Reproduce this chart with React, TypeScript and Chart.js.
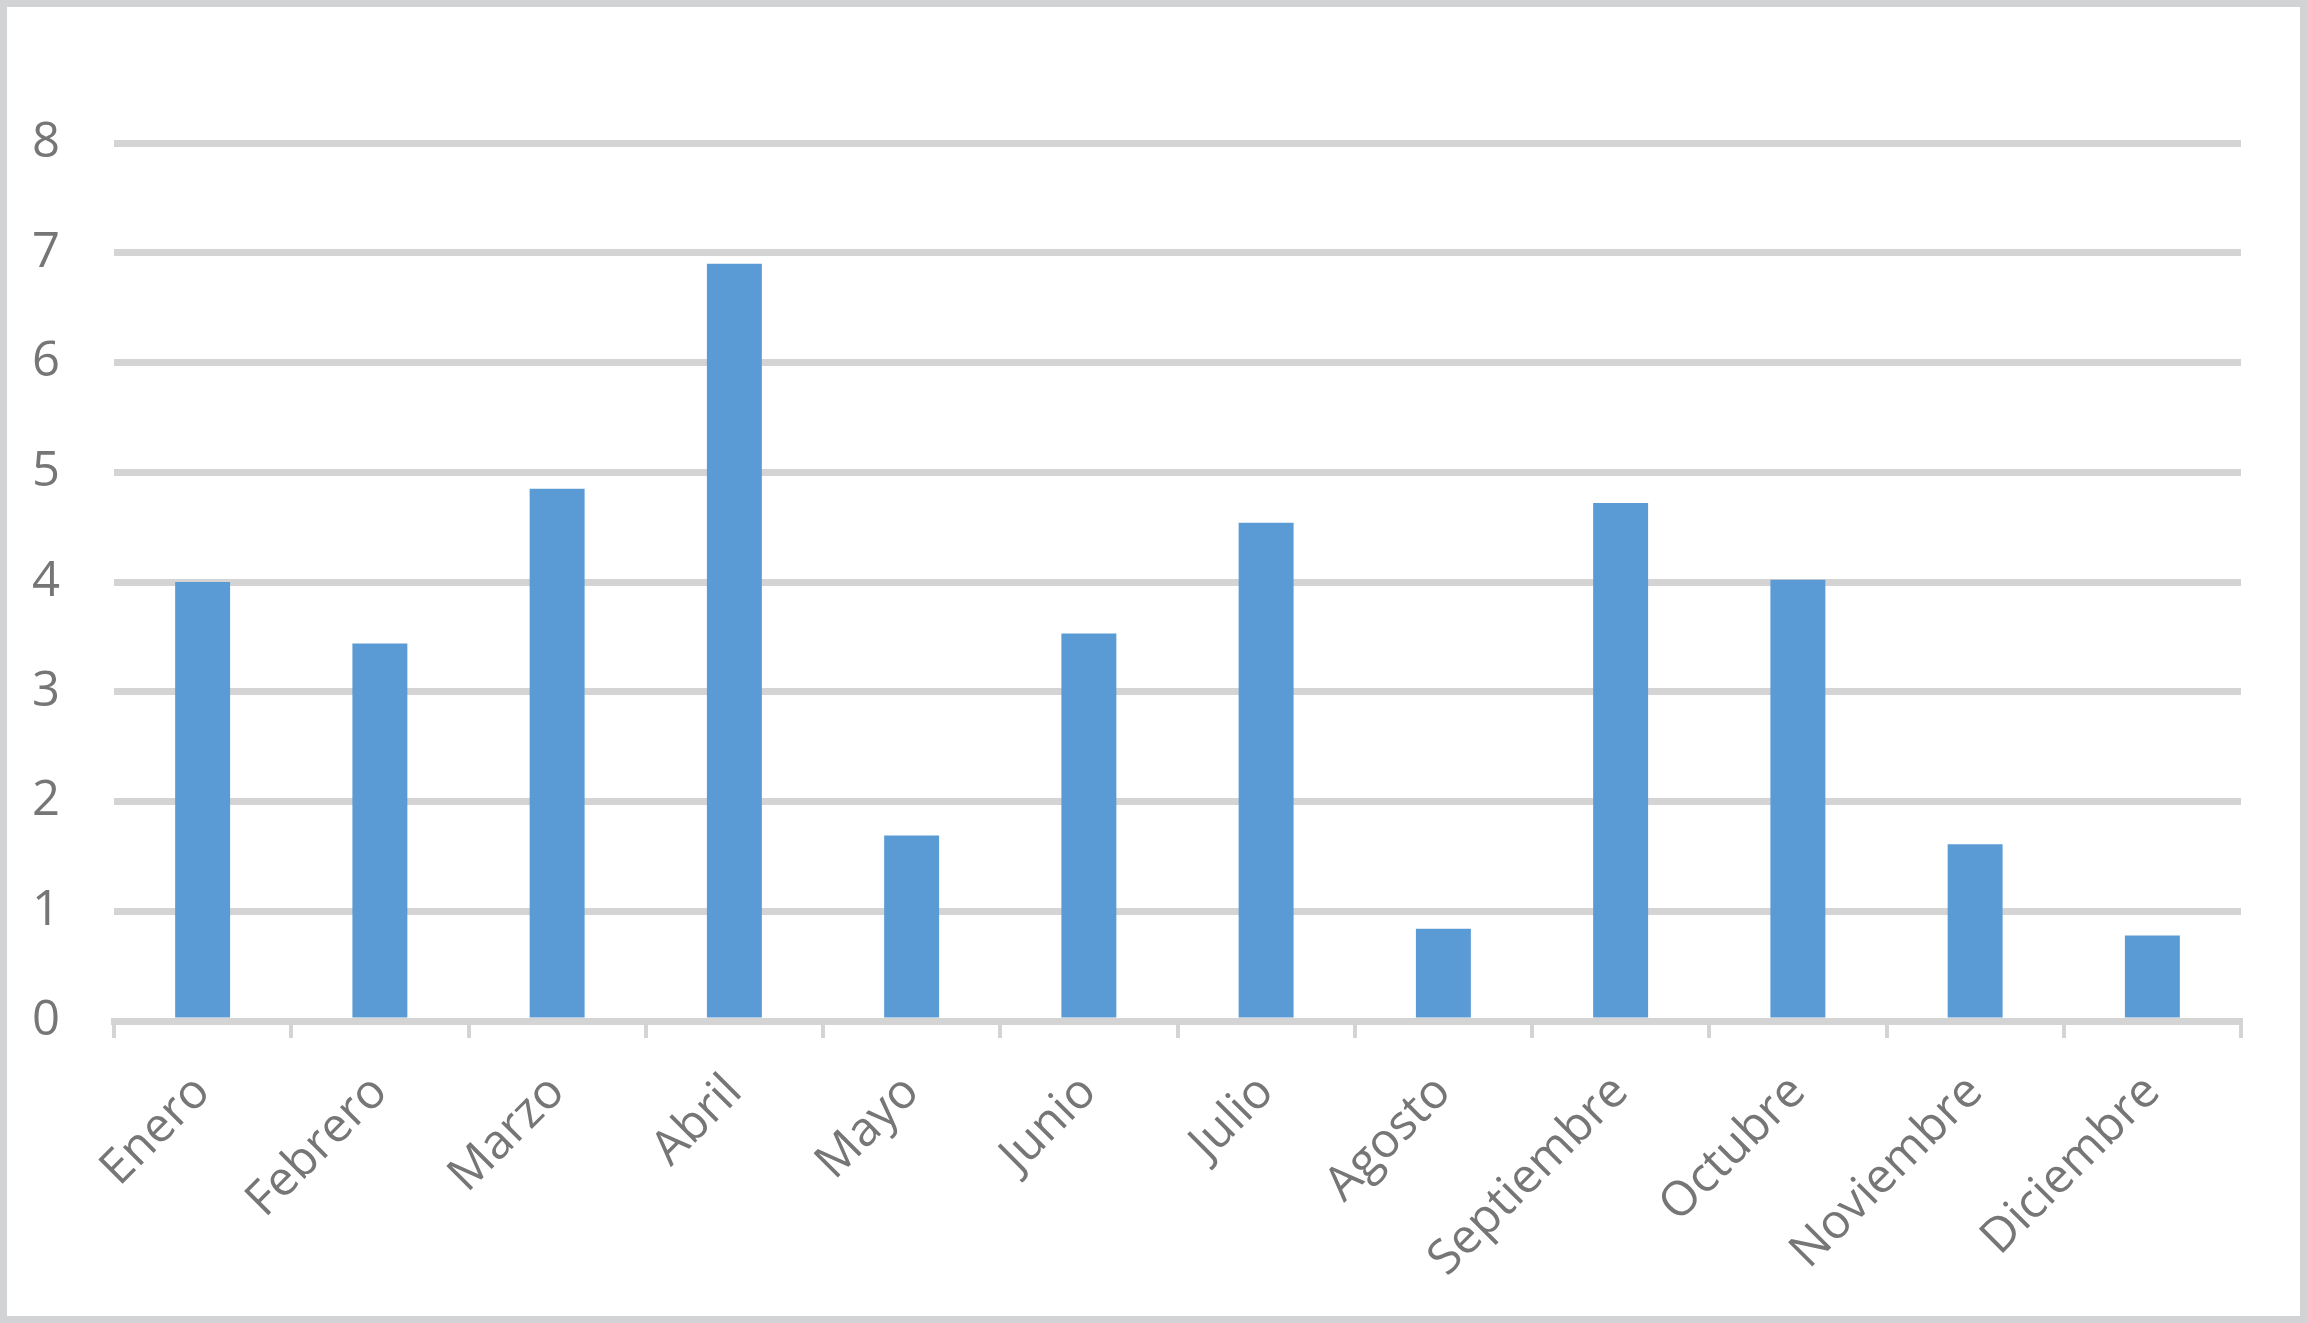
import React, { useEffect, useRef } from "react";
import { Chart, registerables } from "chart.js";

Chart.register(...registerables);

const months = [
  "Enero", "Febrero", "Marzo", "Abril", "Mayo", "Junio",
  "Julio", "Agosto", "Septiembre", "Octubre", "Noviembre", "Diciembre",
];
const values = [4.0, 3.44, 4.85, 6.9, 1.69, 3.53, 4.54, 0.84, 4.72, 4.02, 1.61, 0.78];
const yTicks = [0, 1, 2, 3, 4, 5, 6, 7, 8];

const W = 2307;
const H = 1323;
const textColor = "#767676";
const gridColor = "#d4d4d4";
const fontFamily = "'Open Sans', sans-serif";

export default function App() {
  const ref = useRef<HTMLCanvasElement | null>(null);

  useEffect(() => {
    if (!ref.current) return;
    const chart = new Chart(ref.current, {
      type: "bar",
      data: {
        labels: months,
        datasets: [
          {
            data: values,
            backgroundColor: "#5b9bd5",
            borderWidth: 0,
            categoryPercentage: 1,
            barPercentage: 0.31,
          },
        ],
      },
      options: {
        animation: false,
        responsive: false,
        maintainAspectRatio: false,
        layout: { padding: { left: 0, right: 66, top: 143, bottom: 0 } },
        plugins: {
          legend: { display: false },
          tooltip: { enabled: false },
        },
        scales: {
          x: {
            grid: {
              drawOnChartArea: false,
              drawTicks: true,
              tickLength: 17,
              tickColor: gridColor,
              lineWidth: 4,
              offset: true,
            },
            border: { display: true, color: gridColor, width: 7 },
            ticks: {
              color: textColor,
              font: { family: fontFamily, size: 48 },
              minRotation: 45,
              maxRotation: 45,
              padding: 26,
              autoSkip: false,
            },
            afterFit: (axis: any) => {
              axis.height = H - 1021;
            },
          },
          y: {
            min: 0,
            max: 8,
            afterBuildTicks: (axis: any) => {
              axis.ticks = yTicks.map((v) => ({ value: v }));
            },
            grid: {
              color: gridColor,
              lineWidth: 7,
              drawTicks: false,
            },
            border: { display: false },
            ticks: {
              color: textColor,
              font: { family: fontFamily, size: 49 },
              padding: 54,
            },
            afterFit: (axis: any) => {
              axis.width = 114;
            },
          },
        },
      },
    });
    return () => chart.destroy();
  }, []);

  return (
    <div style={{ position: "absolute", left: 0, top: 0, width: W, height: H, background: "#fff" }}>
      <canvas ref={ref} width={W} height={H} style={{ position: "absolute", left: 0, top: 0, width: W, height: H }} />
      <div
        style={{
          position: "absolute",
          left: 0,
          top: 0,
          width: W,
          height: H,
          boxSizing: "border-box",
          border: "7px solid #d1d3d4",
          pointerEvents: "none",
        }}
      />
    </div>
  );
}
